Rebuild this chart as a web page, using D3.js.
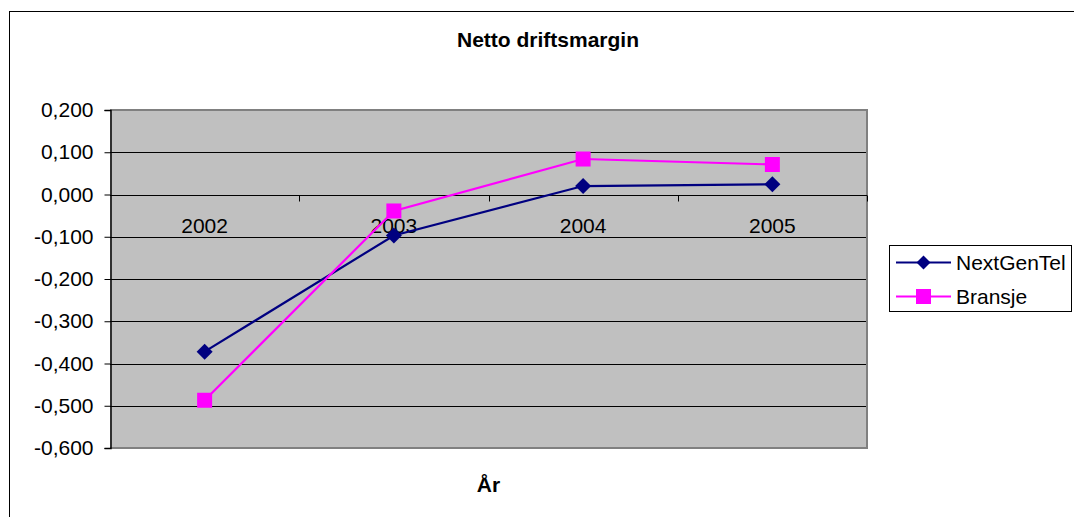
<!DOCTYPE html>
<html>
<head>
<meta charset="utf-8">
<script src="https://cdn.jsdelivr.net/npm/d3@7"></script>
<style>
  html, body { margin: 0; padding: 0; background: #fff; }
  svg { display: block; }
  text { font-family: "Liberation Sans", Arial, sans-serif; fill: #000; }
</style>
</head>
<body>
<svg id="chart" width="1074" height="517"></svg>
<script>
// ---- data ----
const categories = ["2002", "2003", "2004", "2005"];
const seriesNames = ["NextGenTel", "Bransje"];
const nextGenTel = [-0.372, -0.097, 0.020, 0.024];
const bransje = [-0.487, -0.039, 0.084, 0.071];
const yTicks = [-0.6, -0.5, -0.4, -0.3, -0.2, -0.1, 0.0, 0.1, 0.2];
const chartTitle = "Netto driftsmargin";
const xTitle = "År";

const series = [
  { name: seriesNames[0], values: nextGenTel, color: "#000080", marker: "diamond" },
  { name: seriesNames[1], values: bransje, color: "#FF00FF", marker: "square" }
];

// ---- layout ----
const W = 1074, H = 517;
const plot = { left: 110, top: 110, right: 867, bottom: 448 };
const FS = "21px";

const svg = d3.select("#chart");

// outer chart border (extends beyond the canvas on right/bottom)
svg.append("rect")
  .attr("x", 9.5).attr("y", 11.5)
  .attr("width", W + 20).attr("height", H + 20)
  .attr("fill", "#fff").attr("stroke", "#000").attr("stroke-width", 1);

const x = d3.scaleBand().domain(categories).range([plot.left, plot.right]).padding(0);
const y = d3.scaleLinear().domain([-0.6, 0.2]).range([plot.bottom, plot.top]);

const fmt = v => {
  const s = Math.abs(v) < 1e-9 ? "0.000" : v.toFixed(3);
  return s.replace(".", ",");
};

// plot area
svg.append("rect")
  .attr("x", plot.left).attr("y", plot.top)
  .attr("width", plot.right - plot.left).attr("height", plot.bottom - plot.top)
  .attr("fill", "#C0C0C0");

// gridlines
svg.append("g").selectAll("line")
  .data(yTicks.filter(v => v > -0.6 + 1e-9 && v < 0.2 - 1e-9))
  .join("line")
  .attr("x1", plot.left).attr("x2", plot.right)
  .attr("y1", d => Math.round(y(d)) + 0.5).attr("y2", d => Math.round(y(d)) + 0.5)
  .attr("stroke", "#000").attr("stroke-width", 1);

// plot border (gray) top/right/bottom
svg.append("path")
  .attr("d", `M${plot.left},${plot.top}H${plot.right}V${plot.bottom}H${plot.left}`)
  .attr("fill", "none").attr("stroke", "#808080").attr("stroke-width", 2);

// y axis
const yAxis = d3.axisLeft(y).tickValues(yTicks).tickFormat(fmt).tickSize(6).tickPadding(11);
const gy = svg.append("g").attr("transform", `translate(${plot.left + 0.5},0)`).call(yAxis);
gy.select(".domain").attr("stroke", "#000").attr("stroke-width", 1.5);
gy.selectAll(".tick line").attr("stroke", "#000");
gy.selectAll(".tick text")
  .style("font-family", '"Liberation Sans", Arial, sans-serif')
  .style("font-size", FS).attr("fill", "#000");

// x axis at y = 0 with ticks at category boundaries
const y0 = Math.round(y(0)) + 0.5;
const gx = svg.append("g");
gx.append("line")
  .attr("x1", plot.left).attr("x2", plot.right)
  .attr("y1", y0).attr("y2", y0)
  .attr("stroke", "#000").attr("stroke-width", 1);
const boundaries = categories.map(c => x(c) + x.bandwidth());
gx.selectAll("line.tk").data(boundaries).join("line").attr("class", "tk")
  .attr("x1", d => Math.round(d) + 0.5).attr("x2", d => Math.round(d) + 0.5)
  .attr("y1", y0).attr("y2", y0 + 6)
  .attr("stroke", "#000");
gx.selectAll("text").data(categories).join("text")
  .attr("x", d => x(d) + x.bandwidth() / 2)
  .attr("y", y0 + 37)
  .attr("text-anchor", "middle")
  .style("font-size", FS)
  .text(d => d);

// lines
const line = d3.line()
  .x((d, i) => x(categories[i]) + x.bandwidth() / 2)
  .y(d => y(d));

series.forEach(s => {
  svg.append("path")
    .datum(s.values)
    .attr("d", line)
    .attr("fill", "none")
    .attr("stroke", s.color)
    .attr("stroke-width", 2.2);
});

const diamond = (cx, cy, r) => `M${cx},${cy - r}L${cx + r},${cy}L${cx},${cy + r}L${cx - r},${cy}Z`;

function drawMarker(g, type, cx, cy, color, size) {
  if (type === "diamond") {
    g.append("path").attr("d", diamond(cx, cy, size / 2)).attr("fill", color);
  } else {
    g.append("rect")
      .attr("x", cx - size / 2).attr("y", cy - size / 2)
      .attr("width", size).attr("height", size).attr("fill", color);
  }
}

series.forEach(s => {
  const g = svg.append("g");
  s.values.forEach((v, i) => {
    drawMarker(g, s.marker, x(categories[i]) + x.bandwidth() / 2, y(v), s.color, s.marker === "diamond" ? 16 : 15);
  });
});

// title
svg.append("text")
  .attr("x", 548).attr("y", 47)
  .attr("text-anchor", "middle")
  .style("font-size", "21px").style("font-weight", "bold")
  .text(chartTitle);

// x-axis title
svg.append("text")
  .attr("x", 488.5).attr("y", 492)
  .attr("text-anchor", "middle")
  .style("font-size", "21px").style("font-weight", "bold")
  .text(xTitle);

// legend
const lg = svg.append("g");
lg.append("rect")
  .attr("x", 889.5).attr("y", 245.5)
  .attr("width", 182).attr("height", 66)
  .attr("fill", "#fff").attr("stroke", "#000").attr("stroke-width", 1);
const legendY = [262.5, 296.5];
series.forEach((s, i) => {
  const ly = legendY[i];
  lg.append("line")
    .attr("x1", 896).attr("x2", 951)
    .attr("y1", ly).attr("y2", ly)
    .attr("stroke", s.color).attr("stroke-width", 2.2);
  drawMarker(lg, s.marker, 923.5, ly, s.color, s.marker === "diamond" ? 14 : 15);
  lg.append("text")
    .attr("x", 956).attr("y", ly + 7.5)
    .style("font-size", FS)
    .text(s.name);
});
</script>
</body>
</html>
